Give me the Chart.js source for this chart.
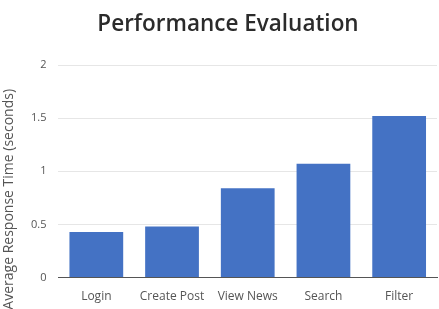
<!DOCTYPE html>
<html>
<head>
<meta charset="utf-8">
<script src="https://cdn.jsdelivr.net/npm/chart.js@4"></script>
<style>
  html, body { margin: 0; padding: 0; background: #fff; }
  #wrap { width: 439px; height: 309px; }
</style>
</head>
<body>
<div id="wrap"><canvas id="chart"></canvas></div>
<script>
// ── Data ─────────────────────────────────────────────────────
const actions = ['Login', 'Create Post', 'View News', 'Search', 'Filter'];
const responseTimes = [0.43, 0.48, 0.84, 1.07, 1.52];
const yTicks = ['0', '0.5', '1', '1.5', '2'];
const yTitle = 'Average Response Time (seconds)';

const FONT = '"Open Sans", sans-serif';

// y-axis title drawn a bit below the plot centre, like the original
const yTitlePlugin = {
  id: 'yTitle',
  afterDraw(chart) {
    const { ctx, chartArea } = chart;
    ctx.save();
    ctx.translate(9, (chartArea.top + chartArea.bottom) / 2 + 28);
    ctx.rotate(-Math.PI / 2);
    ctx.font = '14px ' + FONT;
    ctx.fillStyle = '#555';
    ctx.textAlign = 'center';
    ctx.textBaseline = 'middle';
    ctx.fillText(yTitle, 0, 0);
    ctx.restore();
  }
};

// ── Chart ────────────────────────────────────────────────────
const ctx = document.getElementById('chart').getContext('2d');
new Chart(ctx, {
  type: 'bar',
  data: {
    labels: actions,
    datasets: [{
      label: 'Average Response Time',
      data: responseTimes,
      backgroundColor: '#4472c4',
      categoryPercentage: 0.71,
      barPercentage: 1
    }]
  },
  plugins: [yTitlePlugin],
  options: {
    responsive: true,
    maintainAspectRatio: false,
    animation: false,
    layout: { padding: { left: 19, right: 2, top: 9, bottom: -7 } },
    plugins: {
      legend: { display: false },
      tooltip: { enabled: false },
      title: {
        display: true,
        text: 'Performance Evaluation',
        color: '#2b2b2b',
        font: { family: FONT, size: 22.5, weight: '600' },
        padding: { top: 2, bottom: 27 }
      }
    },
    scales: {
      x: {
        grid: { display: false, drawTicks: false },
        border: { color: '#555', width: 1 },
        ticks: { color: '#555', font: { family: FONT, size: 12 }, padding: 12 }
      },
      y: {
        min: 0,
        max: 2,
        ticks: {
          stepSize: 0.5,
          color: '#555',
          font: { family: FONT, size: 11 },
          padding: 12,
          callback: (v, i) => yTicks[i]
        },
        grid: { color: '#e6e6e6', drawTicks: false },
        border: { display: false }
      }
    }
  }
});
</script>
</body>
</html>
